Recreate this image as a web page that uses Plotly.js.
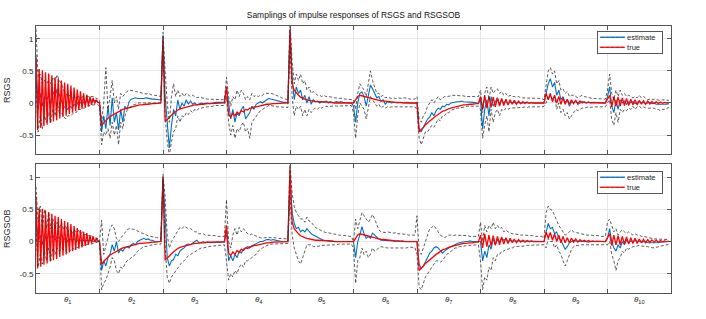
<!DOCTYPE html>
<html><head><meta charset="utf-8">
<script src="https://cdn.plot.ly/plotly-3.0.1.min.js"></script>
<style>html,body{margin:0;padding:0;background:#fff}#chart{width:706px;height:319px}</style>
</head><body><div id="chart"></div>
<script>
const segLen = 30;
const thetaLabels = ['<i>θ</i><sub>1</sub>','<i>θ</i><sub>2</sub>','<i>θ</i><sub>3</sub>','<i>θ</i><sub>4</sub>','<i>θ</i><sub>5</sub>','<i>θ</i><sub>6</sub>','<i>θ</i><sub>7</sub>','<i>θ</i><sub>8</sub>','<i>θ</i><sub>9</sub>','<i>θ</i><sub>10</sub>'];
const yTickVals = [-0.5, 0, 0.5, 1];
const yTickText = ['-0.5', '0', '0.5', '1'];
const seriesNames = ['estimate', 'true'];

// true impulse responses (shared by both panels), one row per parameter
const trueIR = [
[0.7,-0.42,0.53,-0.39,0.51,-0.36,0.48,-0.34,0.46,-0.31,0.43,-0.29,0.4,-0.27,0.38,-0.24,0.35,-0.22,0.32,-0.2,0.3,-0.17,0.27,-0.15,0.24,-0.13,0.21,-0.11,0.18,-0.09,0.15,-0.07,0.13,-0.05,0.1,-0.03,0.08,-0.01,0.05,0.01],
[0,-0.35,-0.31,-0.27,-0.24,-0.21,-0.19,-0.17,-0.15,-0.13,-0.12,-0.1,-0.09,-0.08,-0.07,-0.06,-0.05,-0.05,-0.04,-0.03,-0.03,-0.02,-0.02,-0.02,-0.01,-0.01,-0.01,-0.01,0,0],
[1.0,-0.28,-0.26,-0.22,-0.19,-0.16,-0.13,-0.11,-0.09,-0.08,-0.07,-0.06,-0.05,-0.04,-0.04,-0.03,-0.03,-0.02,-0.02,-0.02,-0.01,-0.01,-0.01,-0.01,0,0,0,0,0,0],
[0.25,-0.18,-0.22,-0.16,-0.2,-0.14,-0.17,-0.12,-0.14,-0.1,-0.11,-0.08,-0.08,-0.06,-0.06,-0.05,-0.04,-0.03,-0.03,-0.02,-0.02,-0.01,-0.01,-0.01,-0.01,0,0,0,0,0],
[1.15,0.3,0.2,0.15,0.12,0.09,0.07,0.06,0.05,0.04,0.03,0.03,0.02,0.02,0.02,0.01,0.01,0.01,0.01,0.01,0.01,0,0,0,0,0,0,0,0,0],
[0.0,0.05,0.1,0.12,0.11,0.1,0.09,0.08,0.07,0.06,0.05,0.045,0.04,0.035,0.03,0.025,0.02,0.02,0.015,0.01,0.01,0.01,0.005,0.005,0,0,0,0,0,0],
[0,-0.45,-0.42,-0.38,-0.34,-0.31,-0.28,-0.25,-0.22,-0.2,-0.18,-0.15,-0.13,-0.12,-0.1,-0.09,-0.08,-0.07,-0.06,-0.05,-0.04,-0.04,-0.03,-0.03,-0.02,-0.02,-0.02,-0.01,-0.01,-0.01],
[0.1,-0.1,0.12,-0.08,0.1,-0.07,0.09,-0.06,0.08,-0.05,0.07,-0.04,0.06,-0.03,0.05,-0.02,0.04,-0.02,0.03,-0.01,0.02,-0.01,0.015,-0.005,0.01,0,0.005,0,0,0],
[0.0,0.15,0.05,0.14,0.02,0.12,0.0,0.1,-0.02,0.08,-0.02,0.06,-0.02,0.05,-0.01,0.04,-0.01,0.03,0.0,0.02,0.0,0.015,0.0,0.01,0.0,0.005,0,0,0,0],
[0.05,0.12,-0.06,0.1,-0.05,0.09,-0.05,0.08,-0.04,0.07,-0.04,0.06,-0.03,0.05,-0.03,0.04,-0.02,0.035,-0.02,0.03,-0.015,0.025,-0.01,0.02,-0.01,0.015,-0.005,0.01,0,0.005]
];

// RSGS panel
const estRSGS = [
[0.75,-0.1,0.15,-0.05,0.1,0.05,0.12,-0.02,0.18,0.1,0.22,0.12,0.05,-0.05,-0.08,-0.1,-0.05,-0.08,-0.02,-0.05,0.02,0.0,0.03,-0.02,0.04,0.02,0.05,0.03,0.04,0.02],
[0.0,-0.45,-0.2,-0.4,-0.05,-0.35,0.08,-0.3,-0.15,-0.42,-0.1,-0.3,-0.05,-0.1,0.02,0.06,0.07,0.08,0.07,0.07,0.06,0.07,0.08,0.07,0.07,0.06,0.06,0.05,0.05,0.05],
[1.05,0.1,-0.3,-0.7,-0.35,-0.1,-0.2,0.05,-0.1,0.0,-0.05,0.05,-0.02,0.03,-0.02,0.0,-0.03,-0.01,0.0,-0.01,0.0,0.0,-0.01,0.0,0.0,0.01,0.01,0.01,0.01,0.01],
[0.25,0.0,-0.25,-0.1,-0.3,-0.15,-0.2,-0.1,-0.05,-0.25,-0.2,-0.15,-0.05,-0.1,-0.02,0.0,0.02,0.0,0.03,0.05,0.07,0.06,0.05,0.05,0.03,0.02,0.02,0.01,0.01,0.0],
[1.1,0.4,0.05,0.25,0.15,0.2,0.05,0.12,0.0,0.1,-0.02,0.05,0.02,0.03,0.0,0.02,0.01,0.03,0.0,0.02,0.0,0.01,0.02,0.01,0.02,0.01,0.01,0.0,0.0,0.0],
[-0.05,-0.3,0.0,0.15,0.17,0.1,-0.05,0.1,0.28,0.22,0.15,0.08,0.1,0.02,0.05,-0.02,0.02,0.01,0.0,0.01,0.0,0.0,0.01,0.0,0.0,0.01,0.0,0.0,0.0,0.0],
[0.0,-0.4,-0.45,-0.38,-0.3,-0.25,-0.22,-0.15,-0.2,-0.12,-0.08,-0.1,-0.05,-0.06,-0.02,-0.03,0.0,0.01,0.02,0.02,0.02,0.03,0.02,0.02,0.01,0.01,0.01,0.01,0.0,0.0],
[0.05,-0.4,-0.1,0.05,-0.2,0.1,-0.05,0.03,0.08,-0.02,0.05,0.0,0.03,-0.02,0.02,0.0,0.01,0.0,0.01,-0.01,0.0,0.01,0.0,0.0,0.0,-0.01,0.0,0.0,0.0,0.0],
[0.0,0.15,0.3,0.38,0.25,0.32,0.12,0.2,0.05,0.1,0.0,0.05,-0.05,0.02,0.0,0.03,-0.02,0.0,0.02,0.01,0.0,0.01,0.0,0.0,0.01,0.0,0.0,0.0,0.0,0.0],
[0.1,0.25,-0.05,-0.15,0.05,-0.1,0.05,0.0,0.03,-0.02,0.02,0.0,0.02,-0.01,0.01,0.02,0.0,0.01,-0.01,0.0,0.01,-0.01,0.0,-0.02,-0.02,-0.03,-0.02,-0.02,-0.02,-0.01]
];
const upRSGS = [
[1.15,0.4,0.45,0.3,0.35,0.3,0.35,0.3,0.4,0.35,0.44,0.35,0.3,0.2,0.15,0.1,0.12,0.08,0.1,0.08,0.1,0.08,0.1,0.09,0.1,0.1,0.1,0.1,0.08,0.06],
[0.05,-0.3,0.0,0.55,-0.1,0.1,0.35,0.0,0.1,-0.1,0.15,0.1,0.15,0.18,0.2,0.2,0.19,0.18,0.17,0.16,0.15,0.15,0.14,0.15,0.13,0.12,0.12,0.12,0.11,0.1],
[1.1,0.5,0.0,-0.3,0.1,0.3,0.1,0.2,0.1,0.15,0.1,0.15,0.12,0.1,0.12,0.1,0.08,0.09,0.08,0.07,0.07,0.06,0.06,0.06,0.06,0.06,0.05,0.05,0.05,0.05],
[0.4,0.1,-0.05,0.1,0.05,0.2,0.1,0.2,0.15,0.05,0.1,0.05,0.15,0.1,0.12,0.1,0.12,0.12,0.15,0.15,0.16,0.15,0.14,0.13,0.12,0.1,0.08,0.07,0.06,0.05],
[1.25,0.65,0.3,0.45,0.35,0.45,0.3,0.35,0.2,0.25,0.15,0.18,0.15,0.12,0.12,0.1,0.12,0.1,0.1,0.1,0.09,0.08,0.08,0.08,0.07,0.07,0.06,0.06,0.05,0.06],
[0.05,-0.1,0.15,0.3,0.25,0.2,0.1,0.3,0.5,0.35,0.25,0.15,0.15,0.1,0.12,0.08,0.09,0.08,0.07,0.08,0.07,0.08,0.07,0.07,0.08,0.07,0.06,0.06,0.06,0.06],
[0.1,-0.25,-0.3,-0.2,-0.15,-0.05,0.0,0.05,0.0,0.05,0.1,0.05,0.08,0.1,0.1,0.1,0.11,0.12,0.12,0.12,0.11,0.11,0.11,0.1,0.1,0.1,0.1,0.1,0.1,0.1],
[0.2,-0.15,0.15,0.25,0.05,0.25,0.15,0.2,0.22,0.15,0.18,0.12,0.15,0.1,0.12,0.1,0.1,0.09,0.1,0.08,0.08,0.08,0.07,0.08,0.07,0.07,0.07,0.07,0.07,0.07],
[0.05,0.3,0.5,0.55,0.45,0.5,0.3,0.35,0.2,0.22,0.15,0.18,0.1,0.12,0.12,0.1,0.08,0.1,0.12,0.1,0.09,0.08,0.08,0.07,0.07,0.07,0.06,0.06,0.06,0.06],
[0.2,0.45,0.15,0.05,0.2,0.1,0.2,0.12,0.15,0.1,0.12,0.1,0.08,0.1,0.08,0.12,0.08,0.1,0.08,0.05,0.06,0.05,0.06,0.05,0.04,0.04,0.05,0.05,0.04,0.04]
];
const loRSGS = [
[0.35,-0.45,-0.2,-0.4,-0.2,-0.3,-0.15,-0.3,-0.1,-0.2,0.0,-0.15,-0.15,-0.2,-0.25,-0.2,-0.2,-0.18,-0.15,-0.15,-0.1,-0.1,-0.08,-0.08,-0.05,-0.05,-0.03,-0.03,-0.02,-0.02],
[-0.05,-0.65,-0.45,-0.5,-0.4,-0.55,-0.3,-0.5,-0.35,-0.65,-0.3,-0.4,-0.2,-0.12,-0.08,-0.05,-0.03,-0.02,0,0,0,0.01,0.0,0.0,0.01,0.0,0.0,0.0,0.0,0.0],
[0.9,-0.2,-0.6,-0.82,-0.6,-0.45,-0.4,-0.2,-0.3,-0.2,-0.22,-0.15,-0.18,-0.12,-0.15,-0.1,-0.12,-0.08,-0.08,-0.07,-0.06,-0.06,-0.06,-0.05,-0.05,-0.04,-0.04,-0.04,-0.04,-0.04],
[0.1,-0.3,-0.5,-0.35,-0.55,-0.4,-0.45,-0.35,-0.3,-0.45,-0.4,-0.55,-0.3,-0.25,-0.2,-0.15,-0.12,-0.1,-0.08,-0.06,-0.04,-0.04,-0.05,-0.05,-0.06,-0.06,-0.06,-0.07,-0.07,-0.07],
[0.9,0.1,-0.2,-0.05,-0.1,-0.05,-0.2,-0.1,-0.2,-0.1,-0.15,-0.1,-0.08,-0.1,-0.06,-0.08,-0.06,-0.05,-0.06,-0.05,-0.05,-0.04,-0.05,-0.05,-0.04,-0.04,-0.05,-0.05,-0.04,-0.04],
[-0.15,-0.55,-0.2,0.0,-0.05,-0.1,-0.25,-0.1,0.1,0.05,0.0,-0.05,-0.02,-0.08,-0.05,-0.08,-0.06,-0.07,-0.06,-0.06,-0.06,-0.06,-0.06,-0.06,-0.06,-0.06,-0.06,-0.06,-0.06,-0.06],
[-0.1,-0.55,-0.65,-0.55,-0.45,-0.45,-0.4,-0.35,-0.38,-0.3,-0.25,-0.28,-0.2,-0.2,-0.15,-0.15,-0.12,-0.1,-0.1,-0.08,-0.08,-0.07,-0.06,-0.06,-0.05,-0.05,-0.05,-0.05,-0.05,-0.05],
[-0.1,-0.55,-0.35,-0.2,-0.45,-0.1,-0.3,-0.15,-0.1,-0.2,-0.1,-0.12,-0.08,-0.1,-0.08,-0.08,-0.08,-0.07,-0.07,-0.08,-0.07,-0.06,-0.07,-0.06,-0.06,-0.07,-0.06,-0.06,-0.06,-0.06],
[-0.05,0.0,0.1,0.15,0.05,0.1,-0.1,0.0,-0.15,-0.1,-0.2,-0.15,-0.25,-0.2,-0.15,-0.1,-0.12,-0.1,-0.08,-0.08,-0.07,-0.06,-0.07,-0.06,-0.06,-0.06,-0.06,-0.06,-0.06,-0.06],
[0.0,0.05,-0.25,-0.35,-0.15,-0.3,-0.1,-0.15,-0.1,-0.12,-0.08,-0.1,-0.05,-0.1,-0.06,-0.05,-0.08,-0.06,-0.08,-0.08,-0.07,-0.08,-0.08,-0.1,-0.1,-0.12,-0.1,-0.1,-0.08,-0.07]
];

// RSGSOB panel
const estRSGSOB = [
[0.5,0.0,0.1,-0.05,0.12,0.0,0.15,0.05,0.1,0.02,0.08,0.05,0.12,0.02,0.06,0.0,0.04,0.02,0.05,0.0,0.03,0.01,0.03,0.0,0.02,0.01,0.02,0.0,0.01,0.0],
[0.0,-0.45,-0.3,-0.38,-0.25,-0.2,-0.05,-0.15,0.0,-0.18,-0.12,-0.15,-0.1,-0.08,-0.1,-0.05,-0.03,-0.05,0.0,0.02,0.04,0.05,0.03,0.04,0.02,0.02,0.0,0.0,0.0,0.0],
[1.0,0.3,-0.25,-0.38,-0.3,-0.28,-0.2,-0.22,-0.15,-0.12,-0.1,-0.05,-0.04,-0.05,-0.02,0.0,0.02,-0.02,-0.02,0.0,-0.02,-0.01,-0.02,-0.02,-0.02,-0.02,-0.02,-0.01,-0.01,-0.01],
[0.15,-0.3,-0.22,-0.3,-0.2,-0.25,-0.15,-0.18,-0.12,-0.1,-0.08,-0.1,-0.06,-0.05,-0.03,-0.02,0.0,0.0,0.02,0.03,0.03,0.02,0.03,0.02,0.01,0.01,0.0,0.0,0.0,0.0],
[0.95,0.45,0.28,0.2,0.22,0.15,0.18,0.15,0.2,0.15,0.12,0.1,0.08,0.06,0.05,0.03,0.02,0.01,0.0,0.0,0.0,0.0,0.0,0.0,-0.01,0.0,0.0,0.0,0.0,0.0],
[0.0,-0.25,0.0,0.1,0.23,0.12,0.05,0.08,0.05,0.13,0.1,0.06,0.04,0.02,0.02,0.01,0.01,0.02,0.01,0.01,0.0,0.01,0.0,0.01,0.0,0.0,0.0,0.0,0.0,0.0],
[0.0,-0.35,-0.42,-0.38,-0.3,-0.25,-0.18,-0.15,-0.1,-0.08,-0.1,-0.15,-0.18,-0.15,-0.12,-0.1,-0.08,-0.06,-0.04,-0.03,-0.02,-0.01,0.0,0.0,0.0,0.01,0.0,0.0,0.0,0.0],
[0.0,-0.3,-0.15,-0.25,-0.05,-0.12,0.05,-0.05,0.03,0.0,0.05,0.02,0.04,0.0,0.02,0.01,0.01,0.0,0.01,0.0,0.0,0.0,0.0,0.0,0.0,0.0,0.0,0.0,0.0,0.0],
[0.0,0.15,0.28,0.2,0.22,0.12,0.15,0.05,0.02,-0.05,-0.12,-0.08,-0.02,0.0,0.02,0.01,0.0,0.01,0.0,0.0,0.0,-0.01,0.0,0.0,0.0,0.0,0.0,0.0,0.0,0.0],
[0.05,0.2,0.0,-0.1,-0.15,-0.05,-0.1,0.0,-0.05,0.02,-0.02,0.01,0.0,0.02,0.0,0.01,-0.01,0.0,0.0,-0.02,-0.02,-0.03,-0.03,-0.02,-0.02,-0.01,-0.01,0.0,0.0,0.0]
];
const upRSGSOB = [
[0.85,0.3,0.55,0.2,0.5,0.2,0.45,0.2,0.35,0.2,0.3,0.2,0.3,0.18,0.25,0.15,0.2,0.12,0.18,0.15,0.18,0.12,0.15,0.1,0.12,0.08,0.1,0.06,0.06,0.05],
[0.0,0.33,-0.2,-0.05,0.1,0.2,0.26,0.2,0.05,0.0,0.05,0.1,0.15,0.18,0.2,0.2,0.19,0.18,0.16,0.15,0.13,0.12,0.1,0.09,0.08,0.08,0.07,0.06,0.05,0.05],
[1.05,0.7,0.1,-0.1,0.0,0.05,0.1,0.15,0.22,0.2,0.24,0.22,0.2,0.2,0.18,0.15,0.15,0.12,0.12,0.12,0.1,0.1,0.1,0.1,0.09,0.09,0.08,0.08,0.08,0.08],
[0.65,0.0,-0.1,0.1,0.2,0.1,0.22,0.15,0.2,0.15,0.12,0.1,0.12,0.1,0.08,0.07,0.06,0.05,0.06,0.06,0.06,0.07,0.06,0.06,0.05,0.05,0.05,0.05,0.04,0.04],
[1.2,0.75,0.55,0.45,0.4,0.35,0.35,0.3,0.38,0.32,0.3,0.25,0.22,0.2,0.18,0.16,0.15,0.14,0.14,0.13,0.12,0.12,0.11,0.1,0.1,0.09,0.09,0.09,0.08,0.08],
[0.0,0.35,0.2,0.35,0.45,0.4,0.35,0.3,0.35,0.42,0.35,0.25,0.18,0.15,0.14,0.14,0.15,0.14,0.14,0.13,0.14,0.12,0.12,0.12,0.11,0.11,0.1,0.1,0.1,0.1],
[0.4,-0.15,-0.2,-0.1,0.0,0.1,0.2,0.22,0.25,0.2,0.15,0.1,0.08,0.06,0.08,0.1,0.1,0.09,0.1,0.1,0.1,0.1,0.09,0.09,0.09,0.08,0.08,0.08,0.08,0.08],
[0.3,0.0,0.25,0.15,0.25,0.2,0.3,0.2,0.25,0.2,0.22,0.15,0.18,0.15,0.14,0.12,0.12,0.11,0.1,0.1,0.1,0.1,0.1,0.09,0.09,0.09,0.08,0.08,0.08,0.08],
[0.05,0.45,0.55,0.5,0.48,0.4,0.35,0.25,0.2,0.15,0.1,0.12,0.15,0.18,0.15,0.14,0.13,0.12,0.12,0.11,0.1,0.1,0.1,0.1,0.09,0.09,0.09,0.08,0.08,0.08],
[0.3,0.35,0.25,0.15,0.2,0.1,0.15,0.18,0.15,0.12,0.15,0.12,0.1,0.12,0.1,0.1,0.08,0.08,0.07,0.06,0.05,0.05,0.04,0.04,0.04,0.04,0.03,0.03,0.03,0.03]
];
const loRSGSOB = [
[0.2,-0.4,-0.2,-0.35,-0.15,-0.3,-0.1,-0.3,-0.1,-0.2,-0.1,-0.15,-0.1,-0.12,-0.15,-0.18,-0.15,-0.1,-0.12,-0.1,-0.08,-0.07,-0.06,-0.05,-0.05,-0.04,-0.04,-0.03,-0.03,-0.02],
[0.0,-0.75,-0.65,-0.6,-0.5,-0.4,-0.25,-0.3,-0.45,-0.5,-0.4,-0.42,-0.35,-0.3,-0.28,-0.25,-0.22,-0.2,-0.15,-0.12,-0.1,-0.08,-0.08,-0.07,-0.06,-0.05,-0.05,-0.04,-0.04,-0.04],
[0.95,-0.1,-0.55,-0.65,-0.55,-0.5,-0.45,-0.4,-0.35,-0.32,-0.3,-0.25,-0.22,-0.2,-0.18,-0.15,-0.13,-0.12,-0.1,-0.1,-0.09,-0.08,-0.08,-0.07,-0.07,-0.06,-0.06,-0.06,-0.05,-0.05],
[-0.3,-0.6,-0.5,-0.55,-0.45,-0.5,-0.4,-0.35,-0.4,-0.3,-0.3,-0.28,-0.25,-0.22,-0.2,-0.15,-0.12,-0.1,-0.08,-0.06,-0.05,-0.04,-0.04,-0.03,-0.03,-0.03,-0.03,-0.03,-0.03,-0.03],
[0.7,0.1,-0.1,-0.2,-0.3,-0.35,-0.25,-0.15,-0.05,-0.05,-0.05,-0.08,-0.08,-0.08,-0.07,-0.06,-0.06,-0.05,-0.05,-0.05,-0.05,-0.05,-0.05,-0.04,-0.04,-0.04,-0.04,-0.04,-0.04,-0.04],
[-0.1,-0.65,-0.3,-0.25,-0.1,-0.2,-0.15,-0.25,-0.2,-0.1,-0.15,-0.12,-0.1,-0.08,-0.09,-0.1,-0.1,-0.1,-0.1,-0.1,-0.1,-0.11,-0.1,-0.1,-0.1,-0.1,-0.09,-0.09,-0.09,-0.09],
[-0.2,-0.7,-0.75,-0.65,-0.55,-0.5,-0.45,-0.4,-0.35,-0.3,-0.3,-0.32,-0.3,-0.25,-0.2,-0.18,-0.15,-0.12,-0.1,-0.1,-0.08,-0.08,-0.07,-0.07,-0.06,-0.06,-0.06,-0.06,-0.05,-0.05],
[-0.3,-0.75,-0.55,-0.6,-0.4,-0.45,-0.25,-0.3,-0.2,-0.2,-0.15,-0.15,-0.12,-0.12,-0.1,-0.1,-0.08,-0.08,-0.08,-0.07,-0.07,-0.07,-0.06,-0.06,-0.06,-0.06,-0.06,-0.06,-0.06,-0.06],
[-0.05,-0.1,0.05,0.0,0.0,-0.1,-0.05,-0.15,-0.2,-0.3,-0.38,-0.3,-0.2,-0.12,-0.08,-0.06,-0.06,-0.05,-0.05,-0.05,-0.05,-0.05,-0.05,-0.04,-0.04,-0.04,-0.04,-0.04,-0.04,-0.04],
[-0.05,0.0,-0.2,-0.3,-0.45,-0.3,-0.25,-0.15,-0.18,-0.1,-0.12,-0.1,-0.08,-0.08,-0.07,-0.06,-0.07,-0.07,-0.08,-0.08,-0.09,-0.1,-0.1,-0.09,-0.08,-0.07,-0.07,-0.06,-0.05,-0.05]
];

function flat(segs) {
  const xs = [], ys = [];
  segs.forEach((s, k) => s.forEach((v, j) => { xs.push(k * segLen + j * segLen / s.length); ys.push(v); }));
  return { x: xs, y: ys };
}

const C_EST = '#0072BD', C_TRUE = '#FF0000', C_BND = '#333333';
function panel(est, up, lo, xa, ya) {
  const e = flat(est), t = flat(trueIR), u = flat(up), l = flat(lo);
  return [
    { x: e.x, y: e.y, xaxis: xa, yaxis: ya, type: 'scatter', mode: 'lines', name: seriesNames[0], showlegend: false, line: { color: C_EST, width: 1.1 } },
    { x: t.x, y: t.y, xaxis: xa, yaxis: ya, type: 'scatter', mode: 'lines', name: seriesNames[1], showlegend: false, line: { color: C_TRUE, width: 1.3 } },
    { x: u.x, y: u.y, xaxis: xa, yaxis: ya, type: 'scatter', mode: 'lines', showlegend: false, line: { color: C_BND, width: 0.8, dash: '3px,2px' } },
    { x: l.x, y: l.y, xaxis: xa, yaxis: ya, type: 'scatter', mode: 'lines', showlegend: false, line: { color: C_BND, width: 0.8, dash: '3px,2px' } }
  ];
}

const nSeg = thetaLabels.length;
const bounds = Array.from({ length: nSeg + 1 }, (_, i) => i * segLen);
const FONT = 'Liberation Sans, Arial, sans-serif';
const AX = '#555555', GRID = '#e6e6e6';

function xAxis(anchor) {
  return {
    anchor: anchor, range: [0, nSeg * segLen], tickmode: 'array', tickvals: bounds,
    showticklabels: false, ticks: 'inside', ticklen: 4, tickcolor: AX, tickwidth: 1,
    showgrid: true, gridcolor: GRID, gridwidth: 1, zeroline: false,
    showline: true, linecolor: AX, linewidth: 1, mirror: 'ticks', fixedrange: true
  };
}
function yAxis(anchor, domain, title) {
  return {
    anchor: anchor, domain: domain, range: [-0.8, 1.2], tickmode: 'array', tickvals: yTickVals, ticktext: yTickText,
    ticks: 'inside', ticklen: 4, tickcolor: AX, tickwidth: 1, tickfont: { size: 8, color: '#262626' },
    showgrid: true, gridcolor: GRID, zeroline: false,
    showline: true, linecolor: AX, linewidth: 1, mirror: 'ticks',
    title: { text: title, font: { size: 9, color: '#262626' }, standoff: 7 }
  };
}

const annotations = thetaLabels.map((lab, i) => ({
  x: i * segLen + segLen / 2, xref: 'x2', y: 0, yref: 'paper', yanchor: 'top', yshift: 0,
  text: lab, showarrow: false, font: { size: 8, color: '#262626', family: FONT }
}));

// legend boxes (MATLAB-style compact legend), one per panel
function legendText() {
  return '<span style="color:' + C_EST + '">━━━━━</span> ' + seriesNames[0] + '<br>' +
         '<span style="color:' + C_TRUE + '">━━━━━</span> ' + seriesNames[1] + '          ';
}
[0.982, 0.458].forEach(yTop => {
  annotations.push({
    xref: 'paper', yref: 'paper', x: 0.988, y: yTop, xanchor: 'right', yanchor: 'top',
    text: legendText(), showarrow: false, align: 'left',
    font: { size: 7.5, color: '#262626', family: FONT },
    bgcolor: '#ffffff', bordercolor: '#555555', borderwidth: 1, borderpad: 1
  });
});

const layout = {
  width: 706, height: 319,
  margin: { l: 36, r: 35, t: 26, b: 26 },
  paper_bgcolor: '#ffffff', plot_bgcolor: '#ffffff',
  font: { family: FONT, color: '#262626' },
  title: { text: 'Samplings of impulse responses of RSGS and RSGSOB', x: 0.5, xref: 'paper', y: 1 - 15 / 319, yref: 'container', yanchor: 'middle', font: { size: 8.5, color: '#111111' } },
  xaxis: xAxis('y'),
  yaxis: yAxis('x', [0.5195, 1], 'RSGS'),
  xaxis2: xAxis('y2'),
  yaxis2: yAxis('x2', [0, 0.482], 'RSGSOB'),
  annotations: annotations,
  showlegend: false
};

const data = panel(estRSGS, upRSGS, loRSGS, 'x', 'y').concat(panel(estRSGSOB, upRSGSOB, loRSGSOB, 'x2', 'y2'));
Plotly.newPlot('chart', data, layout, { displayModeBar: false, staticPlot: true });
</script>
</body></html>
